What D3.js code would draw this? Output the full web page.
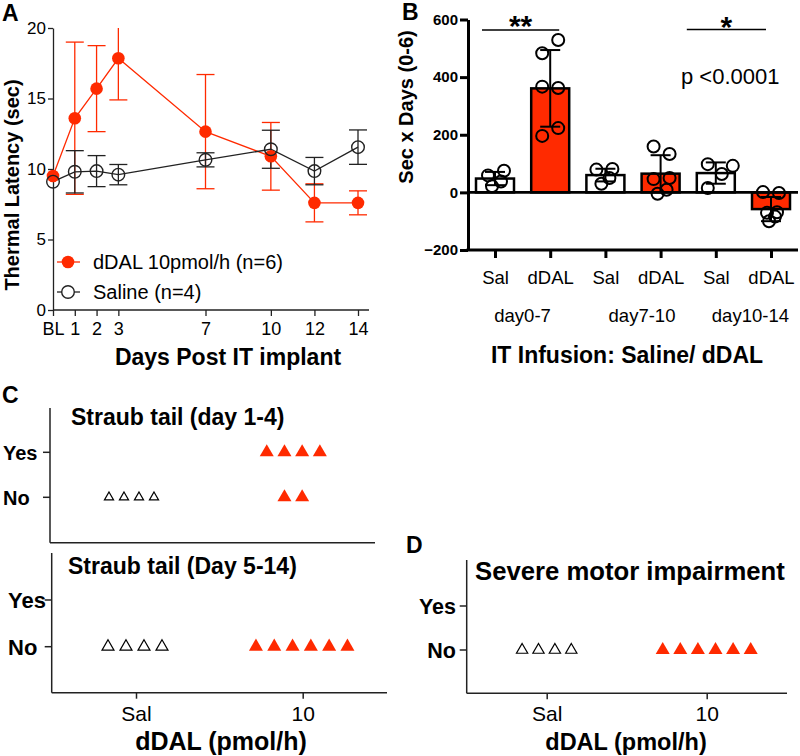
<!DOCTYPE html>
<html>
<head>
<meta charset="utf-8">
<script src="https://cdn.jsdelivr.net/npm/d3@7"></script>
<style>
  html, body { margin: 0; padding: 0; background: #fff; }
  svg { display: block; font-family: "Liberation Sans", Arial, sans-serif; }
</style>
</head>
<body>
<script>
// ---------------- DATA ----------------
// Panel A: thermal latency time course
const dayValues = [0, 1, 2, 3, 7, 10, 12, 14];
const dayLabels = ["BL", "1", "2", "3", "7", "10", "12", "14"];
const dDALMean = [9.5, 13.6, 15.7, 17.85, 12.65, 10.9, 7.6, 7.6];
const dDALErr  = [0.0, 5.4, 3.05, 2.95, 4.05, 2.4, 1.35, 0.85];
const salineMean = [9.1, 9.8, 9.85, 9.6, 10.65, 11.4, 9.85, 11.55];
const salineErr  = [0.0, 1.5, 1.1, 0.72, 0.5, 1.35, 0.97, 1.22];
const yTicksA = [0, 5, 10, 15, 20];
const legendA = ["dDAL 10pmol/h (n=6)", "Saline (n=4)"];

// Panel B: area under curve (Sec x Days)
const groupsB = ["Sal", "dDAL", "Sal", "dDAL", "Sal", "dDAL"];
const periodsB = ["day0-7", "day7-10", "day10-14"];
const meanB = [48, 361, 60, 65, 67, -58];
const sdB = [23, 133, 22, 64, 37, 42];
const pointsB = [
  [75, 59, 38, 21],
  [529, 483, 367, 362, 223, 196],
  [81, 79, 50, 30],
  [159, 133, 50, 46, 9, -5],
  [98, 92, 64, 15],
  [1, -2, -69, -71, -84, -100]
];
const yTicksB = [-200, 0, 200, 400, 600];

// Panels C & D: counts of animals (Yes / No)
const doseCats = ["Sal", "10"];
const answerCats = ["Yes", "No"];
const straubEarlyYes = [0, 4];
const straubEarlyNo  = [4, 2];
const straubLateYes  = [0, 0];
const straubLateNo   = [4, 6];
const motorYes = [0, 0];
const motorNo  = [4, 6];

// ---------------- DRAW ----------------
const RED = "#ff2a00";
const svg = d3.select("body").append("svg").attr("width", 800).attr("height", 756);

function label(t, x, y, size, weight, anchor) {
  return svg.append("text").attr("x", x).attr("y", y).attr("font-size", size)
    .attr("font-weight", weight || "normal").attr("text-anchor", anchor || "start")
    .attr("fill", "#000").text(t);
}

// ===== Panel A =====
label("A", 2, 21, 23, "bold");
const xA = d3.scaleLinear().domain([0, 14]).range([53, 358]);
const yA = d3.scaleLinear().domain([0, 20]).range([310, 28]);
const gA = svg.append("g");

const axLA = gA.append("g").attr("transform", "translate(53,0)")
  .call(d3.axisLeft(yA).tickValues(yTicksA).tickSize(5).tickSizeOuter(0).tickPadding(2));
axLA.selectAll("text").attr("font-size", 17).attr("font-family", "Liberation Sans, Arial");
axLA.selectAll("line,path").attr("stroke", "#222").attr("stroke-width", 1.3);

const axBA = gA.append("g").attr("transform", "translate(0,310)")
  .call(d3.axisBottom(xA).tickValues(dayValues).tickFormat((d, i) => dayLabels[i]).tickSize(6).tickPadding(6));
axBA.select(".domain").remove();
axBA.selectAll("text").attr("font-size", 18).attr("font-family", "Liberation Sans, Arial");
axBA.selectAll("line").attr("stroke", "#222").attr("stroke-width", 1.3);
gA.append("line").attr("x1", xA(0)).attr("x2", xA(14) + 11).attr("y1", 310).attr("y2", 310)
  .attr("stroke", "#222").attr("stroke-width", 1.3);

function errBars(means, errs, color) {
  const g = gA.append("g").attr("stroke", color).attr("stroke-width", 1.3);
  means.forEach((m, i) => {
    if (!errs[i]) return;
    const x = xA(dayValues[i]);
    const hi = yA(Math.min(20, m + errs[i]));
    const lo = yA(m - errs[i]);
    g.append("line").attr("x1", x).attr("x2", x).attr("y1", hi).attr("y2", lo);
    if (m + errs[i] <= 20.01) g.append("line").attr("x1", x - 9).attr("x2", x + 9).attr("y1", hi).attr("y2", hi);
    g.append("line").attr("x1", x - 9).attr("x2", x + 9).attr("y1", lo).attr("y2", lo);
  });
}
errBars(dDALMean, dDALErr, RED);
errBars(salineMean, salineErr, "#222");

const lineA = (arr) => d3.line().x((d, i) => xA(dayValues[i])).y(d => yA(d))(arr);
gA.append("path").attr("d", lineA(dDALMean)).attr("fill", "none").attr("stroke", RED).attr("stroke-width", 1.3);
gA.append("path").attr("d", lineA(salineMean)).attr("fill", "none").attr("stroke", "#222").attr("stroke-width", 1.3);

gA.selectAll(".rd").data(dDALMean).enter().append("circle")
  .attr("cx", (d, i) => xA(dayValues[i])).attr("cy", d => yA(d)).attr("r", 6.3).attr("fill", RED);
gA.selectAll(".sc").data(salineMean).enter().append("circle")
  .attr("cx", (d, i) => xA(dayValues[i])).attr("cy", d => yA(d)).attr("r", 6.3)
  .attr("fill", "none").attr("stroke", "#222").attr("stroke-width", 1.4);

// legend A
[[RED, true, 262], ["#222", false, 292]].forEach((s, i) => {
  gA.append("line").attr("x1", 57).attr("x2", 80).attr("y1", s[2]).attr("y2", s[2])
    .attr("stroke", s[0]).attr("stroke-width", 1.3);
  gA.append("circle").attr("cx", 68).attr("cy", s[2]).attr("r", 6.3)
    .attr("fill", s[1] ? RED : "#fff").attr("stroke", s[1] ? "none" : "#222").attr("stroke-width", 1.4);
  label(legendA[i], 93, s[2] + 7, 20);
});
label("Days Post IT implant", 228, 365, 23, "bold", "middle");
svg.append("text").attr("transform", "translate(18.5,185) rotate(-90)").attr("text-anchor", "middle")
  .attr("font-size", 20).attr("font-weight", "bold").text("Thermal Latency (sec)");

// ===== Panel B =====
label("B", 402, 20, 23, "bold");
const xB = d3.scalePoint().domain(d3.range(groupsB.length)).range([495, 771]);
const yB = d3.scaleLinear().domain([-200, 600]).range([250, 19.5]);
const gB = svg.append("g");
const barW = 38;

// bars
gB.selectAll(".bar").data(meanB).enter().append("rect")
  .attr("x", (d, i) => xB(i) - barW / 2).attr("width", barW)
  .attr("y", d => Math.min(yB(d), yB(0))).attr("height", d => Math.abs(yB(d) - yB(0)))
  .attr("fill", (d, i) => groupsB[i] === "dDAL" ? RED : "#fff")
  .attr("stroke", "#000").attr("stroke-width", 2.5);

// error bars
meanB.forEach((m, i) => {
  const x = xB(i);
  const g = gB.append("g").attr("stroke", "#000").attr("stroke-width", 2);
  g.append("line").attr("x1", x).attr("x2", x).attr("y1", yB(m + sdB[i])).attr("y2", yB(m - sdB[i]));
  [m + sdB[i], m - sdB[i]].forEach(v => g.append("line").attr("x1", x - 10).attr("x2", x + 10).attr("y1", yB(v)).attr("y2", yB(v)));
});

// points
const jitterB = [
  [9, -7, 6, -3],
  [8, -8, -8, 8, 8, -8],
  [7, -9, 4, -4],
  [-7, 9, 9, -7, 6, -3],
  [-8, 17, 6, -8],
  [-8, 8, 6, -4, 4, -2]
];
pointsB.forEach((pts, i) => {
  pts.forEach((v, j) => {
    gB.append("circle").attr("cx", xB(i) + jitterB[i][j]).attr("cy", yB(v)).attr("r", 6)
      .attr("fill", "none").attr("stroke", "#000").attr("stroke-width", 2);
  });
});

// zero line
gB.append("line").attr("x1", 468).attr("x2", 798).attr("y1", yB(0)).attr("y2", yB(0))
  .attr("stroke", "#000").attr("stroke-width", 2.8);

// axes B
const axLB = gB.append("g").attr("transform", "translate(468,0)")
  .call(d3.axisLeft(yB).tickValues(yTicksB).tickSize(8).tickSizeOuter(0).tickPadding(2));
axLB.selectAll("text").attr("font-size", 15).attr("font-weight", "bold").attr("font-family", "Liberation Sans, Arial");
axLB.selectAll("line,path").attr("stroke", "#000").attr("stroke-width", 3);
gB.append("line").attr("x1", 466.5).attr("x2", 798).attr("y1", 250).attr("y2", 250)
  .attr("stroke", "#000").attr("stroke-width", 3);
const axBB = gB.append("g").attr("transform", "translate(0,250)")
  .call(d3.axisBottom(xB).tickSize(8).tickFormat(i => groupsB[i]).tickPadding(13));
axBB.select(".domain").remove();
axBB.selectAll("line").attr("stroke", "#000").attr("stroke-width", 3);
axBB.selectAll("text").attr("font-size", 18.5).attr("font-family", "Liberation Sans, Arial");

const periodNudge = [0, 9, 7];
periodsB.forEach((p, k) => {
  const cx = (xB(2 * k) + xB(2 * k + 1)) / 2 + periodNudge[k];
  label(p, cx, 322, 18.5, "normal", "middle");
});
label("IT Infusion: Saline/ dDAL", 627, 363, 23, "bold", "middle");
svg.append("text").attr("transform", "translate(413,107) rotate(-90)").attr("text-anchor", "middle")
  .attr("font-size", 20).attr("font-weight", "bold").text("Sec x Days (0-6)");

// significance
gB.append("line").attr("x1", xB(0) - 13).attr("x2", xB(1) + 9).attr("y1", 30).attr("y2", 30).attr("stroke", "#000").attr("stroke-width", 1.5);
gB.append("line").attr("x1", xB(4) - 29).attr("x2", xB(5) - 5).attr("y1", 29.5).attr("y2", 29.5).attr("stroke", "#000").attr("stroke-width", 1.5);
label("**", (xB(0) + xB(1)) / 2 - 2, 36, 30, "bold", "middle");
label("*", (xB(4) + xB(5)) / 2 - 17, 37, 30, "bold", "middle");
label("p <0.0001", 681, 84, 22);

// ===== Panels C & D =====
function yesNoPanel(opt) {
  const g = svg.append("g");
  const x = d3.scalePoint().domain(doseCats).range([opt.xSal, opt.x10]);
  const y = d3.scalePoint().domain(answerCats).range([opt.yYes, opt.yNo]);
  // axes
  g.append("line").attr("x1", opt.left).attr("x2", opt.left).attr("y1", opt.top).attr("y2", opt.bottom)
    .attr("stroke", "#222").attr("stroke-width", 1.5);
  g.append("line").attr("x1", opt.left).attr("x2", opt.right).attr("y1", opt.bottom).attr("y2", opt.bottom)
    .attr("stroke", "#222").attr("stroke-width", 1.5);
  answerCats.forEach(a => {
    g.append("line").attr("x1", opt.left - 7).attr("x2", opt.left).attr("y1", y(a)).attr("y2", y(a))
      .attr("stroke", "#222").attr("stroke-width", 1.5);
    g.append("text").attr("x", opt.labX).attr("y", y(a)).attr("dy", "0.36em")
      .attr("text-anchor", opt.labAnchor).attr("font-size", opt.labSize).attr("font-weight", "bold").text(a);
  });
  if (opt.xTicks) {
    const ax = g.append("g").attr("transform", `translate(0,${opt.bottom})`)
      .call(d3.axisBottom(x).tickSize(6).tickPadding(7));
    ax.select(".domain").remove();
    ax.selectAll("line").attr("stroke", "#222").attr("stroke-width", 1.5);
    ax.selectAll("text").attr("font-size", 21).attr("font-family", "Liberation Sans, Arial");
  }
  // title
  g.append("text").attr("x", opt.titleX).attr("y", opt.titleY).attr("font-size", opt.titleSize)
    .attr("font-weight", "bold").text(opt.title);
  // triangles
  [["Yes", opt.yes], ["No", opt.no]].forEach(([a, counts]) => {
    counts.forEach((n, ci) => {
      const cat = doseCats[ci];
      const red = cat === "10";
      const sp = red ? opt.redSp : opt.blkSp;
      for (let k = 0; k < n; k++) {
        const cx = x(cat) + opt.shift + (k - (n - 1) / 2) * sp;
        g.append("path").attr("d", d3.symbol(d3.symbolTriangle, red ? opt.redSize : opt.blkSize)())
          .attr("transform", `translate(${cx},${y(a)})`)
          .attr("fill", red ? RED : "#fff").attr("stroke", red ? "none" : "#000").attr("stroke-width", 1.2);
      }
    });
  });
}

label("C", 2, 403, 23, "bold");
yesNoPanel({ left: 50, right: 375, top: 408, bottom: 542.7, yYes: 452.3, yNo: 497.3,
  xSal: 131.5, x10: 293.3, shift: 0, labX: 3, labAnchor: "start", labSize: 20,
  xTicks: false, title: "Straub tail (day 1-4)", titleX: 71, titleY: 425, titleSize: 23,
  yes: straubEarlyYes, no: straubEarlyNo, redSp: 17.7, blkSp: 15, redSize: 85, blkSize: 36 });
yesNoPanel({ left: 51.7, right: 387, top: 553, bottom: 692.7, yYes: 600, yNo: 646.7,
  xSal: 136, x10: 302.7, shift: -1, labX: 8, labAnchor: "start", labSize: 22,
  xTicks: true, title: "Straub tail (Day 5-14)", titleX: 68, titleY: 574, titleSize: 23,
  yes: straubLateYes, no: straubLateNo, redSp: 18.3, blkSp: 18, redSize: 85, blkSize: 62 });
label("dDAL (pmol/h)", 221, 750, 25, "bold", "middle");

label("D", 406, 553, 23, "bold");
yesNoPanel({ left: 466.7, right: 787, top: 560, bottom: 693.3, yYes: 606, yNo: 650,
  xSal: 546.7, x10: 706.7, shift: 0, labX: 456, labAnchor: "end", labSize: 21.5,
  xTicks: true, title: "Severe motor impairment", titleX: 475, titleY: 580, titleSize: 25.7,
  yes: motorYes, no: motorNo, redSp: 17.6, blkSp: 16.4, redSize: 85, blkSize: 55 });
label("dDAL (pmol/h)", 626, 750, 23.5, "bold", "middle");
</script>
</body>
</html>
